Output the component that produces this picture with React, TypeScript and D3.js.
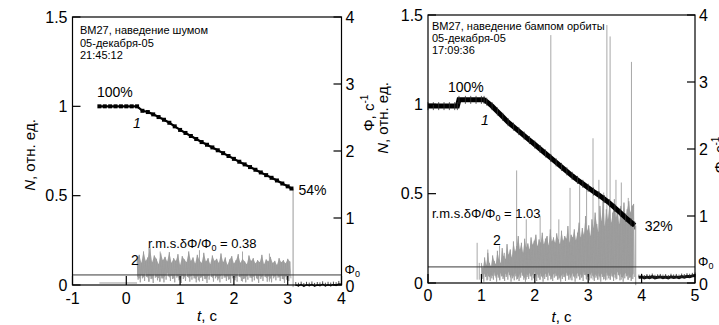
import React from 'react';
import * as d3 from 'd3';

const W = 719;
const H = 325;
const FONT = 'Liberation Sans, Arial, Helvetica, sans-serif';

// ---------- Panel A (noise excitation) ----------
const titleA = ['ВМ27, наведение шумом', '05-декабря-05', '21:45:12'];
const curveAT = [-0.5, -0.4, -0.3, -0.2, -0.1, 0, 0.1, 0.2, 0.3, 0.4, 0.5, 0.6, 0.7, 0.8, 0.9, 1.0, 1.1, 1.2, 1.3, 1.4, 1.5, 1.6, 1.7, 1.8, 1.9, 2.0, 2.1, 2.2, 2.3, 2.4, 2.5, 2.6, 2.7, 2.8, 2.9, 3.0, 3.07];
const curveAN = [1, 1, 1, 1, 1, 1, 1, 1, 0.975, 0.968, 0.955, 0.94, 0.925, 0.908, 0.888, 0.868, 0.851, 0.834, 0.817, 0.8, 0.785, 0.77, 0.754, 0.738, 0.722, 0.706, 0.69, 0.675, 0.66, 0.645, 0.63, 0.615, 0.6, 0.585, 0.568, 0.552, 0.54];
const noiseAStart = 0.2;
const noiseAStep = 0.04;
const noiseAHigh = [0.38, 0.45, 0.33, 0.5, 0.36, 0.41, 0.55, 0.34, 0.44, 0.39, 0.31, 0.47, 0.37, 0.42, 0.35, 0.49, 0.33, 0.4, 0.36, 0.46, 0.3, 0.43, 0.38, 0.34, 0.5, 0.36, 0.41, 0.32, 0.45, 0.37, 0.33, 0.48, 0.35, 0.4, 0.31, 0.44, 0.36, 0.39, 0.33, 0.47, 0.34, 0.41, 0.3, 0.38, 0.43, 0.32, 0.37, 0.46, 0.33, 0.39, 0.35, 0.31, 0.44, 0.36, 0.4, 0.32, 0.37, 0.34, 0.45, 0.31, 0.38, 0.35, 0.42, 0.33, 0.36, 0.3, 0.4, 0.34, 0.37, 0.32, 0.39, 0.35];
const noiseALow = [0.08, 0.04, 0.1, 0.06, 0.12, 0.05, 0.09, 0.03, 0.11, 0.07, 0.05, 0.1, 0.04, 0.08, 0.13, 0.06, 0.09, 0.04, 0.11, 0.07, 0.03, 0.09, 0.06, 0.12, 0.05, 0.08, 0.1, 0.04, 0.07, 0.11, 0.06, 0.09, 0.03, 0.08, 0.12, 0.05, 0.1, 0.07, 0.04, 0.09, 0.11, 0.06, 0.08, 0.03, 0.1, 0.07, 0.05, 0.12, 0.06, 0.09, 0.04, 0.08, 0.11, 0.05, 0.07, 0.1, 0.03, 0.09, 0.06, 0.12, 0.05, 0.08, 0.04, 0.1, 0.07, 0.11, 0.06, 0.09, 0.03, 0.08, 0.06, 0.1];
const spikesAT = [0.42, 0.63, 1.36, 2.16, 2.66];
const spikesAV = [0.56, 0.5, 0.52, 0.5, 0.47];
const preAT = [-0.5, 0.2];
const preAV = [0.03, 0.03];
const dropAT = 3.1;
const tailAStart = 3.15;
const tailAStep = 0.05;
const tailAN = [0.0, -0.004, 0.002, -0.006, 0.001, -0.003, 0.003, -0.005, 0.0, -0.002, 0.004, -0.004, 0.001, -0.003, 0.002, -0.001, 0.006, 0.004];
const phi0A = 0.15;
const rmsA = '0.38';
const startLabelA = '100%';
const endLabelA = '54%';

// ---------- Panel B (orbit bump excitation) ----------
const titleB = ['ВМ27, наведение бампом орбиты', '05-декабря-05', '17:09:36'];
const curveBT = [0, 0.1, 0.2, 0.3, 0.4, 0.5, 0.55, 0.58, 0.7, 0.8, 0.9, 1.0, 1.05, 1.1, 1.2, 1.3, 1.4, 1.5, 1.6, 1.7, 1.8, 1.9, 2.0, 2.1, 2.2, 2.3, 2.4, 2.5, 2.6, 2.7, 2.8, 2.9, 3.0, 3.1, 3.2, 3.3, 3.4, 3.5, 3.6, 3.7, 3.8, 3.87];
const curveBN = [0.99, 0.99, 0.99, 0.99, 0.99, 0.99, 0.99, 1.025, 1.025, 1.025, 1.025, 1.025, 1.025, 1.015, 0.99, 0.96, 0.93, 0.9, 0.875, 0.85, 0.825, 0.8, 0.775, 0.75, 0.725, 0.7, 0.675, 0.65, 0.625, 0.6, 0.577, 0.555, 0.533, 0.512, 0.492, 0.47, 0.447, 0.42, 0.394, 0.366, 0.34, 0.322];
const noiseBStart = 1.0;
const noiseBStep = 0.03;
const noiseBHigh = [0.3, 0.22, 0.38, 0.27, 0.45, 0.3, 0.25, 0.41, 0.33, 0.28, 0.48, 0.35, 0.3, 0.52, 0.4, 0.36, 0.58, 0.42, 0.5, 0.38, 0.62, 0.47, 0.55, 0.7, 0.5, 0.6, 0.45, 0.66, 0.53, 0.59, 0.5, 0.68, 0.57, 0.63, 0.72, 0.55, 0.65, 0.6, 0.75, 0.58, 0.66, 0.7, 0.56, 0.8, 0.62, 0.68, 0.6, 0.74, 0.65, 0.58, 0.78, 0.63, 0.7, 0.66, 0.85, 0.6, 0.72, 0.68, 0.8, 0.64, 0.75, 0.9, 0.68, 0.82, 0.72, 1.0, 0.78, 0.86, 0.7, 0.95, 0.82, 1.05, 0.88, 0.76, 1.15, 0.92, 1.3, 0.85, 1.1, 0.95, 1.2, 0.9, 1.05, 1.25, 0.98, 1.1, 0.88, 1.15, 1.0, 1.2, 0.95, 1.1, 1.22, 1.05, 1.15, 1.18];
const noiseBLow = [0.06, 0.02, 0.09, 0.04, 0.1, 0.03, 0.07, 0.05, 0.11, 0.02, 0.08, 0.04, 0.1, 0.06, 0.03, 0.09, 0.05, 0.12, 0.02, 0.07, 0.04, 0.1, 0.06, 0.03, 0.08, 0.11, 0.05, 0.02, 0.09, 0.06, 0.1, 0.04, 0.07, 0.12, 0.03, 0.08, 0.05, 0.1, 0.02, 0.06, 0.09, 0.04, 0.11, 0.06, 0.03, 0.08, 0.1, 0.05, 0.07, 0.02, 0.06, 0.09, 0.03, 0.11, 0.05, 0.08, 0.04, 0.1, 0.02, 0.07, 0.1, 0.05, 0.08, 0.03, 0.12, 0.06, 0.09, 0.04, 0.07, 0.11, 0.03, 0.08, 0.05, 0.1, 0.02, 0.09, 0.06, 0.04, 0.11, 0.07, 0.05, 0.1, 0.03, 0.08, 0.06, 0.12, 0.04, 0.09, 0.02, 0.07, 0.1, 0.05, 0.08, 0.03, 0.06, 0.09];
const spikesBT = [0.92, 0.96, 1.12, 1.34, 1.43, 1.66, 1.84, 2.1, 2.3, 2.45, 2.66, 2.84, 2.97, 3.09, 3.2, 3.29, 3.35, 3.41, 3.52, 3.62, 3.75, 3.81];
const spikesBV = [0.6, 0.3, 0.5, 0.56, 0.45, 1.68, 0.95, 1.0, 3.7, 0.95, 1.42, 1.46, 1.42, 2.16, 1.54, 1.35, 3.85, 3.68, 1.54, 1.5, 1.27, 3.3];
const dropBT = 3.89;
const tailBStart = 3.95;
const tailBStep = 0.05;
const tailBN = [0.03, 0.035, 0.028, 0.033, 0.03, 0.036, 0.029, 0.032, 0.034, 0.03, 0.033, 0.028, 0.035, 0.031, 0.034, 0.03, 0.036, 0.033, 0.038, 0.035, 0.04, 0.042];
const phi0B = 0.24;
const rmsB = '1.03';
const startLabelB = '100%';
const endLabelB = '32%';

// ---------- shared axis ticks ----------
const nTicks = [0, 0.5, 1, 1.5];
const nTickLabels = ['0', '0.5', '1', '1.5'];
const phiTicks = [0, 1, 2, 3, 4];
const xTicksA = [-1, 0, 1, 2, 3, 4];
const xTicksB = [0, 1, 2, 3, 4, 5];

type PanelCfg = {
  left: number; right: number; top: number; bottom: number;
  xDomain: [number, number]; xTicks: number[];
  title: string[]; titleX: number; titleY: number; titleDy: number;
  curveT: number[]; curveN: number[]; curveW: number; markers: boolean;
  noiseStart: number; noiseStep: number; noiseHigh: number[]; noiseLow: number[];
  spikesT: number[]; spikesV: number[];
  preT?: number[]; preV?: number[];
  dropT: number;
  tailStart: number; tailStep: number; tailN: number[];
  phi0: number; rms: string; rmsX: number; rmsY: number;
  startLabel: string; startX: number; startY: number;
  oneX: number; oneY: number;
  endLabel: string; endDx: number; endDy: number;
  twoX: number; twoY: number;
  xLabelY: number; tickLabelY: number;
  nLabelX: number; nLabelY: number;
  phiLabelX: number; phiLabelY: number;
};

function Panel({ c }: { c: PanelCfg }) {
  const x = d3.scaleLinear().domain(c.xDomain).range([c.left, c.right]);
  const yN = d3.scaleLinear().domain([0, 1.5]).range([c.bottom, c.top]);
  const yP = d3.scaleLinear().domain([0, 4]).range([c.bottom, c.top]);
  const line = d3.line<[number, number]>();

  const noisePts: [number, number][] = [];
  c.noiseHigh.forEach((h, i) => {
    const t = c.noiseStart + i * c.noiseStep;
    noisePts.push([x(t), yP(h)]);
    noisePts.push([x(t + c.noiseStep / 2), yP(c.noiseLow[i])]);
  });
  const area = d3
    .area<number>()
    .x((_, i) => x(c.noiseStart + i * c.noiseStep))
    .y0((_, i) => yP(c.noiseLow[i] + 0.05))
    .y1((h) => yP(h));
  const curvePts: [number, number][] = c.curveT.map((t, i) => [x(t), yN(c.curveN[i])]);
  const tailPts: [number, number][] = c.tailN.map((v, i) => [x(c.tailStart + i * c.tailStep), yN(v)]);
  const endN = c.curveN[c.curveN.length - 1];
  const endT = c.curveT[c.curveT.length - 1];

  const tickLen = 8;
  const fs = 16;
  return (
    <g fontFamily={FONT}>
      {/* gray signal 2 */}
      {c.preT && c.preV && (
        <path d={line(c.preT.map((t, i) => [x(t), yP(c.preV![i])]))!} stroke="#9a9a9a" strokeWidth={1} fill="none" />
      )}
      {c.spikesT.map((t, i) => (
        <line key={'s' + i} x1={x(t)} x2={x(t)} y1={yP(0.05)} y2={yP(c.spikesV[i])} stroke="#a8a8a8" strokeWidth={1} />
      ))}
      <path d={area(c.noiseHigh)!} fill="#a3a3a3" stroke="none" />
      <path d={line(noisePts)!} stroke="#9a9a9a" strokeWidth={0.8} fill="none" />
      <line x1={x(c.dropT)} x2={x(c.dropT)} y1={yN(endN)} y2={yN(-0.012)} stroke="#9a9a9a" strokeWidth={1} />
      {/* phi0 line */}
      <line x1={c.left} x2={c.right} y1={yP(c.phi0)} y2={yP(c.phi0)} stroke="#3a3a3a" strokeWidth={1} />
      {/* curve 1 */}
      <path d={line(curvePts)!} stroke="#000" strokeWidth={c.curveW} fill="none" />
      {c.markers
        ? curvePts.map((p, i) => (
            <rect key={'m' + i} x={p[0] - 2} y={p[1] - 2} width={4} height={4} fill="#000" />
          ))
        : curvePts.map((p, i) => (
            <line key={'m' + i} x1={p[0]} x2={p[0]} y1={p[1] - 4} y2={p[1] + 4} stroke="#333" strokeWidth={0.8} />
          ))}
      <path d={line(tailPts)!} stroke="#111" strokeWidth={c.markers ? 1.5 : 3} fill="none" />
      {tailPts.map((p, i) => (
        <line key={'tl' + i} x1={p[0]} x2={p[0]} y1={p[1] - 3} y2={p[1] + 1} stroke="#222" strokeWidth={0.8} />
      ))}
      {/* frame */}
      <rect x={c.left} y={c.top} width={c.right - c.left} height={c.bottom - c.top} fill="none" stroke="#000" strokeWidth={1.2} />
      {/* left ticks */}
      {nTicks.map((v, i) => (
        <g key={'nt' + i}>
          <line x1={c.left} x2={c.left + tickLen} y1={yN(v)} y2={yN(v)} stroke="#000" strokeWidth={1.2} />
          <text x={c.left - 5} y={yN(v) + 5.5} textAnchor="end" fontSize={fs}>{nTickLabels[i]}</text>
        </g>
      ))}
      {/* right ticks */}
      {phiTicks.map((v) => (
        <g key={'pt' + v}>
          <line x1={c.right - tickLen} x2={c.right} y1={yP(v)} y2={yP(v)} stroke="#000" strokeWidth={1.2} />
          <text x={c.right + 4} y={yP(v) + 5.5 + (v === 0 ? 1.5 : 0)} fontSize={fs}>{v}</text>
        </g>
      ))}
      <text x={c.right + 3} y={yP(c.phi0) - 0.5} fontSize={13}>
        Φ<tspan fontSize={9} dy={3}>0</tspan>
      </text>
      {/* bottom ticks */}
      {c.xTicks.map((v) => (
        <g key={'xt' + v}>
          <line x1={x(v)} x2={x(v)} y1={c.bottom} y2={c.bottom - 9} stroke="#000" strokeWidth={1.2} />
          <text x={x(v)} y={c.tickLabelY} textAnchor="middle" fontSize={fs}>{v}</text>
        </g>
      ))}
      {/* axis titles */}
      <text x={(c.left + c.right) / 2} y={c.xLabelY} textAnchor="middle" fontSize={15}>
        <tspan fontStyle="italic">t</tspan>, с
      </text>
      <text transform={`translate(${c.nLabelX},${c.nLabelY}) rotate(-90)`} textAnchor="middle" fontSize={15}>
        <tspan fontStyle="italic">N</tspan>, отн. ед.
      </text>
      <text transform={`translate(${c.phiLabelX},${c.phiLabelY}) rotate(-90)`} textAnchor="middle" fontSize={15}>
        Φ, с<tspan fontSize={10} dy={-6}>-1</tspan>
      </text>
      {/* titles */}
      {c.title.map((s, i) => (
        <text key={'ti' + i} x={c.titleX} y={c.titleY + i * c.titleDy} fontSize={11}>{s}</text>
      ))}
      {/* annotations */}
      <text x={c.startX} y={c.startY} fontSize={14}>{c.startLabel}</text>
      <text x={c.oneX} y={c.oneY} fontSize={14} fontStyle="italic">1</text>
      <text x={x(endT) + c.endDx} y={yN(endN) + c.endDy} fontSize={14}>{c.endLabel}</text>
      <text x={c.twoX} y={c.twoY} fontSize={14}>2</text>
      <text x={c.rmsX} y={c.rmsY} fontSize={13}>
        r.m.s.δΦ/Φ<tspan fontSize={9} dy={3}>0</tspan><tspan dy={-3}> = {c.rms}</tspan>
      </text>
    </g>
  );
}

const panelA: PanelCfg = {
  left: 72.5, right: 341.5, top: 17, bottom: 285,
  xDomain: [-1, 4], xTicks: xTicksA,
  title: titleA, titleX: 80, titleY: 34, titleDy: 12.5,
  curveT: curveAT, curveN: curveAN, curveW: 2.2, markers: true,
  noiseStart: noiseAStart, noiseStep: noiseAStep, noiseHigh: noiseAHigh, noiseLow: noiseALow,
  spikesT: spikesAT, spikesV: spikesAV, preT: preAT, preV: preAV,
  dropT: dropAT,
  tailStart: tailAStart, tailStep: tailAStep, tailN: tailAN,
  phi0: phi0A, rms: rmsA, rmsX: 148, rmsY: 248,
  startLabel: startLabelA, startX: 97, startY: 97,
  oneX: 133, oneY: 128,
  endLabel: endLabelA, endDx: 7, endDy: 6,
  twoX: 131, twoY: 265,
  xLabelY: 321, tickLabelY: 304,
  nLabelX: 35, nLabelY: 155,
  phiLabelX: 374, phiLabelY: 113,
};

const panelB: PanelCfg = {
  left: 428, right: 695, top: 15, bottom: 283,
  xDomain: [0, 5], xTicks: xTicksB,
  title: titleB, titleX: 432, titleY: 29.5, titleDy: 12,
  curveT: curveBT, curveN: curveBN, curveW: 5, markers: false,
  noiseStart: noiseBStart, noiseStep: noiseBStep, noiseHigh: noiseBHigh, noiseLow: noiseBLow,
  spikesT: spikesBT, spikesV: spikesBV,
  dropT: dropBT,
  tailStart: tailBStart, tailStep: tailBStep, tailN: tailBN,
  phi0: phi0B, rms: rmsB, rmsX: 432, rmsY: 218,
  startLabel: startLabelB, startX: 448, startY: 92,
  oneX: 481, oneY: 125,
  endLabel: endLabelB, endDx: 10, endDy: 6,
  twoX: 493, twoY: 245,
  xLabelY: 322, tickLabelY: 301,
  nLabelX: 388, nLabelY: 118,
  phiLabelX: 725, phiLabelY: 155,
};

export default function App() {
  return (
    <svg width={W} height={H} style={{ position: 'absolute', left: 0, top: 0, background: '#fff' }}>
      <rect width={W} height={H} fill="#fff" />
      <Panel c={panelA} />
      <Panel c={panelB} />
    </svg>
  );
}
